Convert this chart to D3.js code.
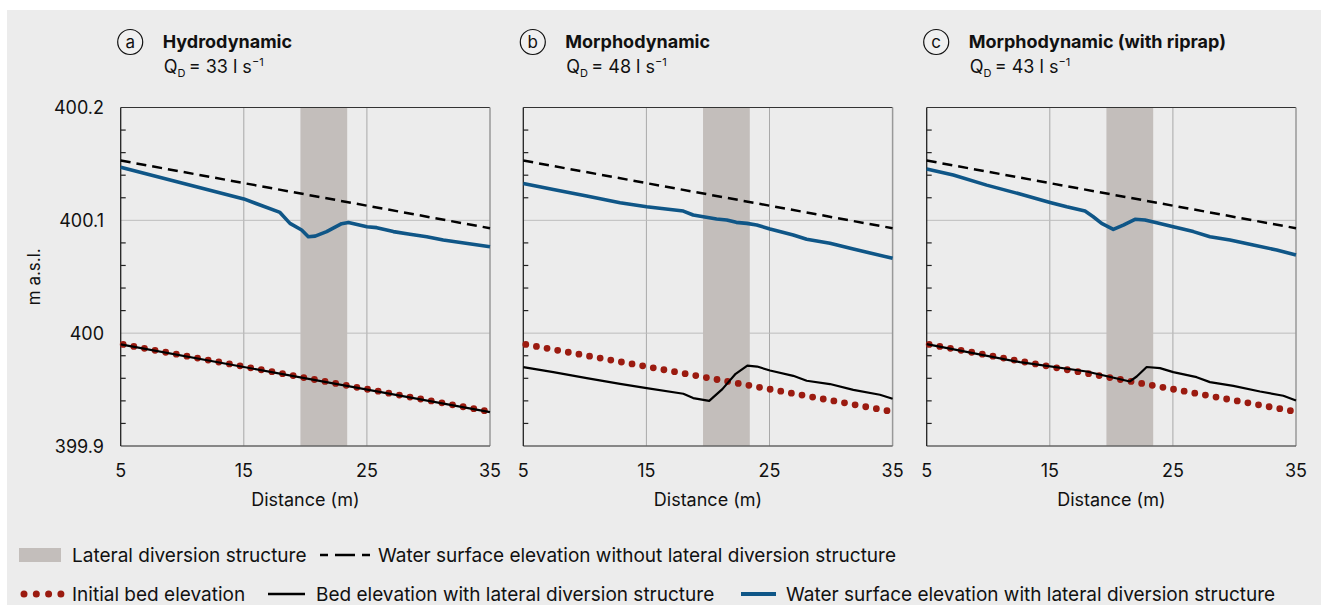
<!DOCTYPE html>
<html>
<head>
<meta charset="utf-8">
<script src="https://cdn.jsdelivr.net/npm/d3@7"></script>
<style>
  body { margin: 0; background: #fff; }
  text { font-family: Inter, "Noto Sans", sans-serif; fill: #111; }
</style>
</head>
<body>
<svg id="chart" width="1321" height="605"></svg>
<script>
// ---- data ----
var panelIds = ['a', 'b', 'c'];
var panelTitles = ['Hydrodynamic', 'Morphodynamic', 'Morphodynamic (with riprap)'];
var discharge = [33, 48, 43];
var xTicks = [5, 15, 25, 35];
var yTicks = [399.9, 400, 400.1, 400.2];
var yTickLabels = ['399.9', '400', '400.1', '400.2'];
var structure = [19.6, 23.4];

var initialBed = [[5, 399.99], [35, 399.93]];
var wseWithout = [[5, 400.153], [35, 400.093]];

var wseA = [[5,400.147],[15,400.119],[17.94,400.107],[18.75,400.0973],[19.7,400.0914],[20.24,400.0855],
  [20.8,400.086],[21.73,400.090],[22.95,400.097],[23.5,400.098],[25,400.0943],[25.8,400.0935],
  [27.15,400.090],[28.5,400.0876],[29.86,400.0855],[31.2,400.0826],[35,400.0766]];
var bedA = [[5, 399.99], [35, 399.93]];

var wseB = [[5,400.1327],[7.44,400.1274],[10.15,400.1215],[12.86,400.1156],[15.02,400.112],[18,400.1082],
  [18.8,400.1047],[20.7,400.1012],[21.52,400.1003],[22.3,400.0982],[23.15,400.0973],[23.96,400.0958],
  [25.04,400.0923],[26.93,400.087],[28.02,400.0832],[29.91,400.0796],[31.81,400.0746],[35,400.0663]];
var bedB = [[5,399.9699],[7.44,399.9655],[10.15,399.9602],[12.86,399.9551],[15.02,399.9513],[18,399.9463],
  [18.8,399.9425],[20.1,399.940],[21.17,399.9504],[22.25,399.964],[23.2,399.9713],[24,399.9704],
  [25.04,399.9669],[26.93,399.9622],[28.02,399.9578],[29.91,399.9549],[31.81,399.9498],[33.97,399.9454],[35,399.9419]];

var wseC = [[5,400.1454],[7.16,400.1401],[9.87,400.1312],[12.58,400.1233],[15.02,400.1159],[16.37,400.112],
  [17.86,400.1082],[18.53,400.1032],[19.21,400.0973],[20.16,400.092],[20.97,400.0958],[21.92,400.1009],
  [22.73,400.1003],[23.68,400.0979],[25.03,400.0943],[26.66,400.090],[28.01,400.0855],[29.64,400.0826],
  [31.53,400.0781],[33.43,400.0737],[35,400.0693]];
var bedC = [[5,399.9903],[12.58,399.9743],[17.99,399.966],[21.51,399.9572],[22.06,399.9616],[22.87,399.97],
  [23.95,399.969],[25.03,399.9655],[26.93,399.961],[28.01,399.9566],[29.91,399.9533],[32.08,399.9483],
  [33.97,399.9445],[35,399.9403]];

var wseSeries = [wseA, wseB, wseC];
var bedSeries = [bedA, bedB, bedC];

// ---- layout ----
var panelLeft = [120.7, 523.3, 926.7];
var panelW = 369.3;
var plotTop = 107.5, plotBottom = 446;

var colBlue = '#0f5687', colRed = '#9b1b10', colStruct = '#c3bebb', colBg = '#ececec';

var svg = d3.select('#chart');
svg.append('rect').attr('x', 7).attr('y', 10).attr('width', 1314).attr('height', 595).style('fill', colBg);

var y = d3.scaleLinear().domain([399.9, 400.2]).range([plotBottom, plotTop]);
var minorY = d3.range(399.92, 400.2, 0.02).filter(function(v) {
  return Math.abs(v * 10 - Math.round(v * 10)) > 0.01;
});

panelIds.forEach(function(id, i) {
  var x0 = panelLeft[i];
  var x = d3.scaleLinear().domain([5, 35]).range([x0, x0 + panelW]);
  var g = svg.append('g');
  var line = d3.line().x(function(d) { return x(d[0]); }).y(function(d) { return y(d[1]); });

  // grid
  g.selectAll('.vg').data([15, 25]).enter().append('line')
    .attr('x1', function(d) { return x(d); }).attr('x2', function(d) { return x(d); })
    .attr('y1', plotTop).attr('y2', plotBottom)
    .style('stroke', '#a9a9a9').style('stroke-width', 1);
  g.selectAll('.hg').data([400, 400.1]).enter().append('line')
    .attr('x1', x0).attr('x2', x0 + panelW)
    .attr('y1', function(d) { return y(d); }).attr('y2', function(d) { return y(d); })
    .style('stroke', '#bdbdbd').style('stroke-width', 1);

  // structure
  g.append('rect')
    .attr('x', x(structure[0])).attr('width', x(structure[1]) - x(structure[0]))
    .attr('y', plotTop).attr('height', plotBottom - plotTop)
    .style('fill', colStruct);

  // frame
  g.append('line').attr('x1', x0).attr('x2', x0 + panelW).attr('y1', plotTop).attr('y2', plotTop)
    .style('stroke', '#333').style('stroke-width', 1.2);
  g.append('line').attr('x1', x0 + panelW).attr('x2', x0 + panelW).attr('y1', plotTop).attr('y2', plotBottom)
    .style('stroke', '#999').style('stroke-width', 1.5);
  g.append('line').attr('x1', x0).attr('x2', x0 + panelW).attr('y1', plotBottom).attr('y2', plotBottom)
    .style('stroke', '#666').style('stroke-width', 1.5);
  g.append('line').attr('x1', x0).attr('x2', x0).attr('y1', plotTop).attr('y2', plotBottom)
    .style('stroke', '#222').style('stroke-width', 1.3);

  // minor ticks
  g.selectAll('.mt').data(minorY).enter().append('line')
    .attr('x1', x0).attr('x2', x0 + 5)
    .attr('y1', function(d) { return y(d); }).attr('y2', function(d) { return y(d); })
    .style('stroke', '#222').style('stroke-width', 1.2);

  // lines
  g.append('path').datum(wseWithout).attr('d', line)
    .style('fill', 'none').style('stroke', '#000').style('stroke-width', 2.5)
    .style('stroke-dasharray', '10,6');
  g.append('path').datum(wseSeries[i]).attr('d', line)
    .style('fill', 'none').style('stroke', colBlue).style('stroke-width', 3.6)
    .style('stroke-linejoin', 'round');
  g.append('path').datum(initialBed).attr('d', line)
    .style('fill', 'none').style('stroke', colRed).style('stroke-width', 6.8)
    .style('stroke-linecap', 'round').style('stroke-dasharray', '0,10.8')
    .attr('transform', 'translate(2.5,0)');
  g.append('path').datum(bedSeries[i]).attr('d', line)
    .style('fill', 'none').style('stroke', '#000').style('stroke-width', 2.2)
    .style('stroke-linejoin', 'round');

  // x ticks
  g.selectAll('.xt').data(xTicks).enter().append('text')
    .attr('x', function(d) { return x(d); }).attr('y', 477)
    .attr('text-anchor', 'middle').style('font-size', '18px')
    .text(function(d) { return d; });
  g.append('text').attr('x', x0 + panelW / 2).attr('y', 506)
    .attr('text-anchor', 'middle').style('font-size', '18px')
    .text('Distance (m)');

  // title
  var cx = x0 + 9.5;
  g.append('circle').attr('cx', cx).attr('cy', 42).attr('r', 12.5)
    .style('fill', '#f0f0f0').style('stroke', '#111').style('stroke-width', 1.2);
  g.append('text').attr('x', cx).attr('y', 48).attr('text-anchor', 'middle')
    .style('font-size', '17px').text(id);
  g.append('text').attr('x', x0 + 42).attr('y', 47.5)
    .style('font-size', '18px').style('font-weight', 700).text(panelTitles[i]);
  var q = g.append('text').attr('x', x0 + 43).attr('y', 73).style('font-size', '18px');
  q.append('tspan').text('Q');
  q.append('tspan').attr('dy', 4).style('font-size', '11px').text('D');
  q.append('tspan').attr('dy', -4).text('\u2009= ' + discharge[i] + ' l s');
  q.append('tspan').attr('dy', -7).style('font-size', '11px').text('\u22121');
});

// y axis labels (panel a only)
svg.selectAll('.yl').data(yTicks).enter().append('text')
  .attr('x', 104).attr('y', function(d) { return y(d) + 6.5; })
  .attr('text-anchor', 'end').style('font-size', '18px')
  .text(function(d, i) { return yTickLabels[i]; });
svg.append('text').attr('transform', 'translate(40,' + (y(400.05)) + ') rotate(-90)')
  .attr('text-anchor', 'middle').style('font-size', '17px').text('m a.s.l.');

// ---- legend ----
var leg = svg.append('g');
var r1 = 555, r2 = 594;
leg.append('rect').attr('x', 19).attr('y', r1 - 7).attr('width', 42).attr('height', 14).style('fill', colStruct);
leg.append('text').attr('x', 72).attr('y', r1 + 7).style('font-size', '19px').text('Lateral diversion structure');
leg.append('line').attr('x1', 320).attr('x2', 370).attr('y1', r1).attr('y2', r1)
  .style('stroke', '#000').style('stroke-width', 2.4).style('stroke-dasharray', '8,7,20,7,8');
leg.append('text').attr('x', 378).attr('y', r1 + 7).style('font-size', '19px')
  .text('Water surface elevation without lateral diversion structure');

leg.append('line').attr('x1', 24).attr('x2', 61).attr('y1', r2).attr('y2', r2)
  .style('stroke', colRed).style('stroke-width', 7).style('stroke-linecap', 'round')
  .style('stroke-dasharray', '0,12.3');
leg.append('text').attr('x', 72).attr('y', r2 + 7).style('font-size', '19px').text('Initial bed elevation');
leg.append('line').attr('x1', 268).attr('x2', 305).attr('y1', r2).attr('y2', r2)
  .style('stroke', '#000').style('stroke-width', 2.4);
leg.append('text').attr('x', 316).attr('y', r2 + 7).style('font-size', '19px').text('Bed elevation with lateral diversion structure');
leg.append('line').attr('x1', 741).attr('x2', 776).attr('y1', r2).attr('y2', r2)
  .style('stroke', colBlue).style('stroke-width', 3.8);
leg.append('text').attr('x', 786).attr('y', r2 + 7).style('font-size', '19px').text('Water surface elevation with lateral diversion structure');
</script>
</body>
</html>
